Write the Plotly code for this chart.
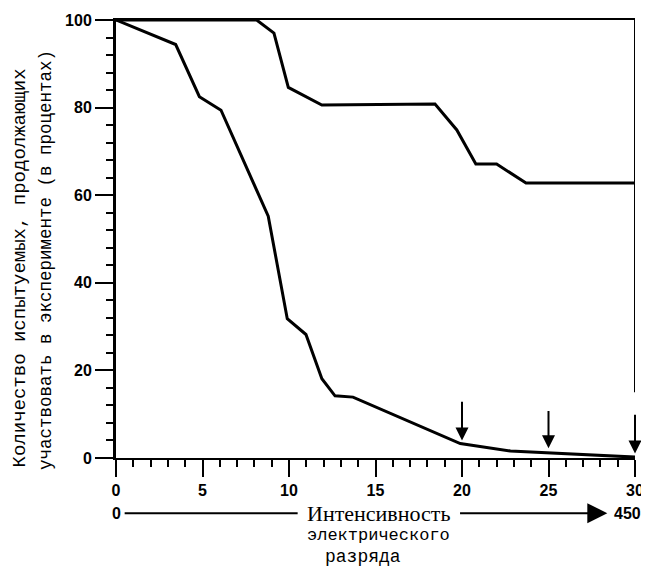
import plotly.graph_objects as go

# Data
lower_x = [0, 3.45, 4.82, 6.07, 8.8, 9.9, 10.98, 11.9, 12.66, 13.7, 19.9, 22.8, 30]
lower_y = [100, 94.4, 82.5, 79.4, 55.2, 31.8, 28.2, 18.1, 14.2, 13.9, 3.3, 1.6, 0.2]

upper_x = [0, 8.13, 9.13, 9.96, 11.9, 18.44, 19.7, 20.8, 22.0, 23.7, 30]
upper_y = [100, 100, 97, 84.6, 80.6, 80.8, 74.9, 67.1, 67.1, 62.8, 62.8]

arrow_x = [20, 25, 30]
arrow_tip = [4.0, 2.2, 1.0]
arrow_tail = [13.2, 11.1, 10.2]

x_ticks = [0, 5, 10, 15, 20, 25, 30]
y_ticks = [0, 20, 40, 60, 80, 100]

right_line_x = [30, 30]
right_line_y = [100, 15]

fig = go.Figure()
fig.add_trace(go.Scatter(x=upper_x, y=upper_y, mode="lines",
                         line=dict(color="black", width=3), cliponaxis=False,
                         hoverinfo="skip"))
fig.add_trace(go.Scatter(x=lower_x, y=lower_y, mode="lines",
                         line=dict(color="black", width=3), cliponaxis=False,
                         hoverinfo="skip"))
fig.add_trace(go.Scatter(x=right_line_x, y=right_line_y, mode="lines",
                         line=dict(color="black", width=2), cliponaxis=False,
                         hoverinfo="skip"))

for xa, tip, tail in zip(arrow_x, arrow_tip, arrow_tail):
    fig.add_annotation(x=xa, y=tip, ax=xa, ay=tail, axref="x", ayref="y",
                       xref="x", yref="y", text="", showarrow=True,
                       arrowhead=2, arrowsize=1.3, arrowwidth=2,
                       arrowcolor="black")

tick_font = dict(family="Liberation Sans", size=16, color="black", weight="bold")

fig.update_xaxes(range=[0, 30], tickvals=x_ticks, ticktext=[str(v) for v in x_ticks],
                 ticks="outside", ticklen=17, tickwidth=2, tickcolor="black",
                 showline=True, linewidth=2, linecolor="black", mirror=True,
                 showgrid=False, zeroline=False, tickfont=tick_font,
                 automargin=False,
                 minor=dict(dtick=1, tick0=0, ticks="outside", ticklen=7,
                            tickwidth=2, tickcolor="black", showgrid=False))
fig.update_yaxes(range=[0, 100], tickvals=y_ticks, ticktext=[str(v) for v in y_ticks],
                 ticks="outside", ticklen=18, tickwidth=2, tickcolor="black",
                 showline=True, linewidth=3, linecolor="black",
                 showgrid=False, zeroline=False, tickfont=tick_font,
                 automargin=False,
                 minor=dict(dtick=4, tick0=0, ticks="outside", ticklen=7,
                            tickwidth=2, tickcolor="black", showgrid=False))

# y-axis title in two lines
fig.add_annotation(text="Количество испытуемых, продолжающих", textangle=-90,
                   xref="paper", yref="paper", x=-0.185, y=0.435, showarrow=False,
                   xanchor="center", yanchor="middle", borderpad=0,
                   font=dict(family="Liberation Mono", size=19, color="black"))
fig.add_annotation(text="участвовать в эксперименте (в процентах)", textangle=-90,
                   xref="paper", yref="paper", x=-0.136, y=0.453, showarrow=False,
                   xanchor="center", yanchor="middle", borderpad=0,
                   font=dict(family="Liberation Mono", size=17.5, color="black"))

# bottom scale line: 0 ----- Интенсивность -----> 450
y_line = -0.126
fig.add_annotation(text="0", xref="x", yref="paper", x=0, y=y_line,
                   showarrow=False, xanchor="center", yanchor="middle",
                   font=tick_font)
fig.add_shape(type="line", xref="x", yref="paper", x0=0.5, x1=10.5,
              y0=y_line, y1=y_line, line=dict(color="black", width=2))
fig.add_annotation(x=28.4, y=y_line, ax=19.8, ay=0, axref="x", ayref="pixel",
                   xref="x", yref="paper", text="", showarrow=True,
                   arrowhead=2, arrowsize=2, arrowwidth=2, arrowcolor="black")
fig.add_annotation(text="450", xref="x", yref="paper", x=29.55, y=y_line,
                   showarrow=False, xanchor="center", yanchor="middle",
                   font=tick_font)
fig.add_annotation(text="Интенсивность", xref="x", yref="paper", x=15.15, y=y_line,
                   showarrow=False, xanchor="center", yanchor="middle",
                   font=dict(family="Liberation Serif", size=22, color="black"))
fig.add_annotation(text="электрического", xref="x", yref="paper", x=15.2, y=-0.177,
                   showarrow=False, xanchor="center", yanchor="middle",
                   font=dict(family="Liberation Mono", size=17, color="black"))
fig.add_annotation(text="разряда", xref="x", yref="paper", x=14.3, y=-0.226,
                   showarrow=False, xanchor="center", yanchor="middle",
                   font=dict(family="Liberation Mono", size=18, color="black"))

fig.update_layout(width=649, height=574, showlegend=False,
                  margin=dict(l=108, r=22, t=12, b=124, autoexpand=False),
                  plot_bgcolor="white", paper_bgcolor="white")

fig.write_html("out.html")
